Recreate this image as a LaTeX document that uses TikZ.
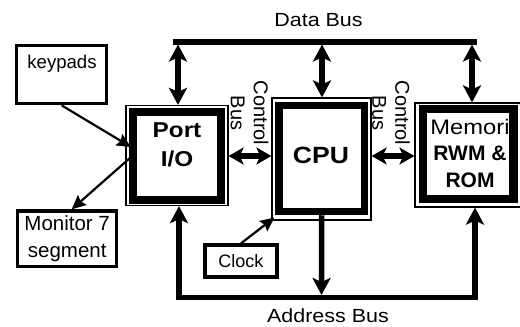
\documentclass[tikz,border=0pt]{standalone}
\usepackage{fontspec}
\setmainfont{Liberation Sans}
\newfontfamily\widefont[FakeStretch=1.13]{Liberation Sans}
\usetikzlibrary{arrows.meta,calc}
\tikzset{
  BigHead/.tip={Stealth[length=17pt,width=18pt,inset=4pt]},
  MidHead/.tip={Stealth[length=15pt,width=17pt,inset=4pt]},
  SmallHead/.tip={Stealth[length=14pt,width=13pt,inset=2pt]},
  outerbox/.style={draw, line width=1.2pt, inner sep=0pt},
  thickbox/.style={draw, line width=8pt, inner sep=0pt},
  plainbox/.style={draw, line width=3.3pt, inner sep=0pt, align=center},
  bus/.style={line width=5.5pt},
  thinarrow/.style={line width=2.2pt, -SmallHead},
}
\begin{document}
\begin{tikzpicture}[x=1pt,y=-1pt]
\useasboundingbox (0,0) rectangle (520,327);

% main boxes
\node[outerbox, minimum width=102pt, minimum height=100pt] (port) at (177,155.5) {};
\node[thickbox, minimum width=88.5pt, minimum height=87.5pt] (portin) at (177,156) {};
\node[font=\widefont\bfseries\fontsize{21.5}{29}\selectfont, align=center] (porttxt) at (177,145) {Port\\I/O};

\node[outerbox, minimum width=99pt, minimum height=122pt] (cpu) at (321.5,159) {};
\node[thickbox, line width=7.5pt, minimum width=85.5pt, minimum height=106pt] (cpuin) at (321.75,158.5) {};
\node[font=\widefont\bfseries\fontsize{23.5}{28}\selectfont] (cputxt) at (321,155) {CPU};

\node[outerbox, minimum width=107pt, minimum height=104pt] (mem) at (468.5,155) {};
\node[thickbox, line width=8.5pt, minimum width=90.5pt, minimum height=90pt] (memin) at (468.25,154) {};
\node[align=center, font=\fontsize{21}{26.5}\selectfont] (memtxt) at (470,153)
  {{\widefont Memori}\\\bfseries RWM \&\\\bfseries ROM};

% peripheral boxes
\node[plainbox, minimum width=90pt, minimum height=58.5pt] (keypads) at (61.7,74.5) {};
\node[anchor=base, font=\fontsize{18.6}{22}\selectfont] (keytxt) at (62,68) {keypads};

\node[plainbox, minimum width=99pt, minimum height=55.7pt, font=\fontsize{20.5}{27.6}\selectfont] (mon) at (67.2,238.8) {Monitor 7\\segment};

\node[plainbox, minimum width=72pt, minimum height=32pt, font=\fontsize{18}{22}\selectfont] (clock) at (241,261) {Clock};

% bus labels
\node[font=\widefont\fontsize{19}{22}\selectfont] (dblabel) at (318.5,20) {Data Bus};
\node[font=\widefont\fontsize{19}{22}\selectfont] (ablabel) at (328,316) {Address Bus};
\node[rotate=-90, align=center, font=\fontsize{20}{23}\selectfont] (cbl) at (249.5,113) {Control\\Bus};
\node[rotate=-90, align=center, font=\fontsize{20}{23}\selectfont] (cbr) at (391,113) {Control\\Bus};

% data bus
\coordinate (dbL) at (173,42);
\coordinate (dbR) at (477,42);
\draw[bus] (dbL) -- (dbR);
\coordinate (d1) at (178,44.5);
\coordinate (d2) at (322,44.5);
\coordinate (d3) at (472,44.5);
\draw[bus, BigHead-BigHead] (d1) -- (d1 |- port.north);
\draw[bus, BigHead-BigHead] (d2) -- (d2 |- cpu.north);
\draw[bus, BigHead-BigHead] (d3) -- (d3 |- mem.north);

% address bus
\coordinate (abL) at (179,297.5);
\coordinate (abR) at (475,297.5);
\coordinate (abT) at (321.5,295);
\draw[bus, BigHead-BigHead] (abL |- port.south) -- (abL) -- (abR) -- (abR |- mem.south);
\draw[bus, -BigHead] (cpuin.south) -- (abT);

% control bus
\coordinate (cy) at (0,156);
\draw[bus, MidHead-MidHead] (port.east |- cy) -- (cpu.west |- cy);
\draw[bus, MidHead-MidHead] (cpu.east |- cy) -- (mem.west |- cy);

% peripheral connectors
\coordinate (kin) at (131,147);
\coordinate (mout) at (130,158);
\draw[thinarrow] (keypads.south) -- (kin);
\draw[thinarrow] (mout) -- ([xshift=4.5pt]mon.north);
\draw[thinarrow] (clock.north) -- ([shift={(3pt,3pt)}]cpu.south west);
\end{tikzpicture}
\end{document}
